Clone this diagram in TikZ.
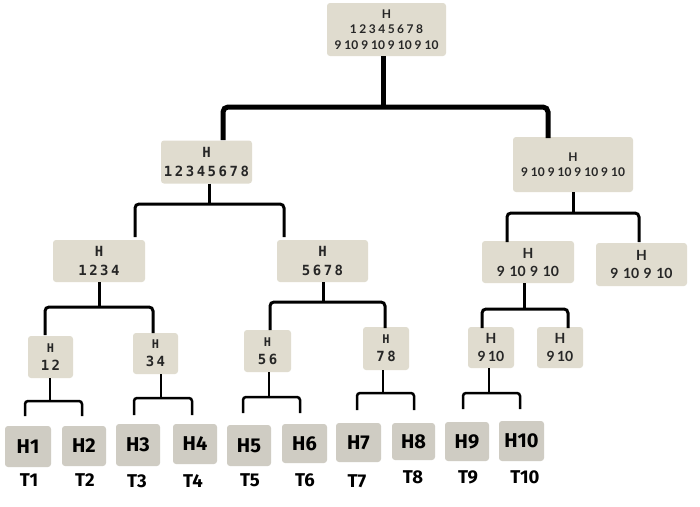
\documentclass[tikz,border=0pt]{standalone}
\usepackage{fontspec}
\setmainfont{Lato}
\newfontfamily\lato{Lato}
\newfontfamily\latosp[LetterSpace=21]{Lato}
\newfontfamily\monosp[LetterSpace=18]{DejaVu Sans Mono}
\newfontfamily\leaff{Fira Sans}
\definecolor{boxc}{HTML}{E0DCCF}
\definecolor{leafc}{HTML}{CFCCC3}
\definecolor{txt}{HTML}{262626}
\newcommand{\gp}{\hspace{4.5pt}}
\begin{document}
\begin{tikzpicture}[x=1pt,y=-1pt,
  ibox/.style={fill=boxc, rounded corners=3pt, inner sep=0pt, align=center, text=txt},
  latof/.style={font=\lato\bfseries\fontsize{12}{15.5}\selectfont},
  latob/.style={font=\lato\bfseries\fontsize{14}{18}\selectfont},
  monof/.style={font=\monosp\bfseries\fontsize{14}{19}\selectfont},
  monos/.style={font=\monosp\bfseries\fontsize{14}{18}\selectfont},
  leaf/.style={fill=leafc, rounded corners=3pt, inner sep=0pt, text=black, font=\leaff\bfseries\fontsize{20}{22}\selectfont},
  tlab/.style={inner sep=0pt, text=black, font=\leaff\bfseries\fontsize{18.5}{22}\selectfont},
  cfive/.style={line width=5pt, rounded corners=5pt},
  cthree/.style={line width=3pt, rounded corners=4pt},
  ctwo/.style={line width=2.5pt, rounded corners=3pt}]
\useasboundingbox (0,0) rectangle (700,506);
\fill[white] (0,0) rectangle (700,506);

% internal nodes
\node[ibox, latof, minimum width=119pt, minimum height=53pt] (root) at (386.5,29.5)
  {H\\{\latosp 12345678}\\9 10 9 10 9 10 9 10};
\node[ibox, monof, minimum width=91pt, minimum height=43pt] (l1a) at (206.5,162) {H\\12345678};
\node[ibox, latof, minimum width=120pt, minimum height=55pt] (l1b) at (573,164.5) {H\\9 10 9 10 9 10 9 10};
\node[ibox, monof, minimum width=92pt, minimum height=42pt] (l2a) at (99,261) {H\\1234};
\node[ibox, monof, minimum width=91pt, minimum height=42pt] (l2b) at (322.5,261) {H\\5678};
\node[ibox, latob, minimum width=92pt, minimum height=42pt] (l2c) at (528,262) {H\\9\gp10\gp9\gp10};
\node[ibox, latob, minimum width=91pt, minimum height=43pt] (l2d) at (641.5,264.5) {H\\9\gp10\gp9\gp10};
\node[ibox, monos, minimum width=45pt, minimum height=42pt] (l3a) at (50.5,357) {{\fontsize{12}{14}\selectfont H}\\12};
\node[ibox, monos, minimum width=45pt, minimum height=41pt] (l3b) at (155.5,353.5) {{\fontsize{12}{14}\selectfont H}\\34};
\node[ibox, monos, minimum width=47pt, minimum height=42pt] (l3c) at (267.5,351) {{\fontsize{12}{14}\selectfont H}\\56};
\node[ibox, monos, minimum width=46pt, minimum height=43pt] (l3d) at (386,348.5) {{\fontsize{12}{14}\selectfont H}\\78};
\node[ibox, latob, minimum width=46pt, minimum height=41pt] (l3e) at (491,347.5) {H\\9\,10};
\node[ibox, latob, minimum width=46pt, minimum height=41pt] (l3f) at (560,347.5) {H\\9\,10};

% leaves
\node[leaf, minimum width=46pt, minimum height=41pt] (h1) at (28,446.5) {H1};
\node[leaf, minimum width=44pt, minimum height=40pt] (h2) at (84,446) {H2};
\node[leaf, minimum width=44pt, minimum height=42pt] (h3) at (138,445) {H3};
\node[leaf, minimum width=44pt, minimum height=40pt] (h4) at (195,444) {H4};
\node[leaf, minimum width=44pt, minimum height=41pt] (h5) at (249,445.5) {H5};
\node[leaf, minimum width=45pt, minimum height=39pt] (h6) at (304.5,443.5) {H6};
\node[leaf, minimum width=45pt, minimum height=39pt] (h7) at (358.5,442.5) {H7};
\node[leaf, minimum width=43pt, minimum height=37pt] (h8) at (413.5,441.5) {H8};
\node[leaf, minimum width=44pt, minimum height=39pt] (h9) at (467,441.5) {H9};
\node[leaf, minimum width=45pt, minimum height=40pt] (h10) at (521.5,441) {H10};

% labels
\node[tlab] (t1) at (29,480) {T1};
\node[tlab] (t2) at (85,480) {T2};
\node[tlab] (t3) at (137,481) {T3};
\node[tlab] (t4) at (193,481) {T4};
\node[tlab] (t5) at (250,480) {T5};
\node[tlab] (t6) at (305,480) {T6};
\node[tlab] (t7) at (357,481) {T7};
\node[tlab] (t8) at (413,477) {T8};
\node[tlab] (t9) at (468,477) {T9};
\node[tlab] (t10) at (525,477) {T10};

% connector coordinates
\coordinate (b0) at (383,107); \coordinate (b0l) at (223,140); \coordinate (b0r) at (548,138);
\coordinate (b1) at (209,204); \coordinate (b1l) at (135,237); \coordinate (b1r) at (284,237);
\coordinate (b2) at (573,213); \coordinate (b2l) at (507,242); \coordinate (b2r) at (639,242);
\coordinate (b3) at (99,307);  \coordinate (b3l) at (45,335);  \coordinate (b3r) at (153,333);
\coordinate (b4) at (323,302); \coordinate (b4l) at (270,330); \coordinate (b4r) at (385,328);
\coordinate (b5) at (524,309); \coordinate (b5l) at (482,328); \coordinate (b5r) at (568,328);
\coordinate (b6) at (50,401);  \coordinate (b6l) at (25,416);  \coordinate (b6r) at (82,416);
\coordinate (b7) at (161,398); \coordinate (b7l) at (134,415); \coordinate (b7r) at (192,415);
\coordinate (b8) at (269,397); \coordinate (b8l) at (243,413); \coordinate (b8r) at (300,413);
\coordinate (b9) at (383,393); \coordinate (b9l) at (357,410); \coordinate (b9r) at (414,410);
\coordinate (b10) at (489,393); \coordinate (b10l) at (463,409); \coordinate (b10r) at (520,409);

% connectors
\draw[cfive] (root.south -| b0) -- (b0);
\draw[cfive] (b0l) |- (b0) -| (b0r);
\draw[cthree] (l1a.south -| b1) -- (b1);
\draw[cthree] (b1l) |- (b1) -| (b1r);
\draw[cthree] (l1b.south -| b2) -- (b2);
\draw[cthree] (b2l) |- (b2) -| (b2r);
\draw[cthree] (l2a.south -| b3) -- (b3);
\draw[cthree] (b3l) |- (b3) -| (b3r);
\draw[cthree] (l2b.south -| b4) -- (b4);
\draw[cthree] (b4l) |- (b4) -| (b4r);
\draw[cthree] (l2c.south -| b5) -- (b5);
\draw[cthree] (b5l) |- (b5) -| (b5r);
\draw[ctwo] (l3a.south -| b6) -- (b6);
\draw[ctwo] (b6l) |- (b6) -| (b6r);
\draw[ctwo] (l3b.south -| b7) -- (b7);
\draw[ctwo] (b7l) |- (b7) -| (b7r);
\draw[ctwo] (l3c.south -| b8) -- (b8);
\draw[ctwo] (b8l) |- (b8) -| (b8r);
\draw[ctwo] (l3d.south -| b9) -- (b9);
\draw[ctwo] (b9l) |- (b9) -| (b9r);
\draw[ctwo] (l3e.south -| b10) -- (b10);
\draw[ctwo] (b10l) |- (b10) -| (b10r);
\end{tikzpicture}
\end{document}
